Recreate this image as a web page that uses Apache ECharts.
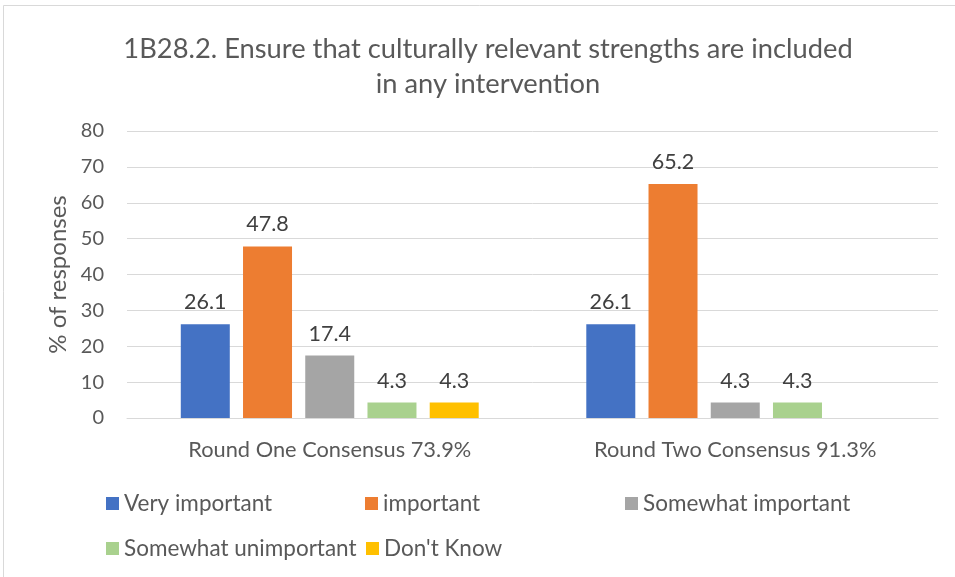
<!DOCTYPE html>
<html>
<head>
<meta charset="utf-8">
<script src="https://cdn.jsdelivr.net/npm/echarts@6/dist/echarts.min.js"></script>
<style>
  html, body { margin: 0; padding: 0; background: #fff; }
  #chart { width: 955px; height: 577px; }
</style>
</head>
<body>
<div id="chart"></div>
<script>
// Response categories (x axis) and the rating series
const categories = ['Round One Consensus 73.9%', 'Round Two Consensus 91.3%'];
const seriesNames = ['Very important', 'important', 'Somewhat important', 'Somewhat unimportant', "Don't Know"];
const veryImportant = [26.1, 26.1];
const important = [47.8, 65.2];
const somewhatImportant = [17.4, 4.3];
const somewhatUnimportant = [4.3, 4.3];
const dontKnow = [4.3, null];
const yTicks = [0, 10, 20, 30, 40, 50, 60, 70, 80];

const colors = ['#4472C4', '#ED7D31', '#A5A5A5', '#A9D18E', '#FFC000'];
const values = [veryImportant, important, somewhatImportant, somewhatUnimportant, dontKnow];
const FONT = 'Lato, "Open Sans", sans-serif';
const TXT = '#595959';

const chart = echarts.init(document.getElementById('chart'), null, { renderer: 'canvas' });

// Legend placement: two rows, three columns
const legendPos = [
  { left: 106, top: 492 },
  { left: 365, top: 492 },
  { left: 625, top: 492 },
  { left: 106, top: 537 },
  { left: 366, top: 537 }
];

const option = {
  backgroundColor: '#ffffff',
  animation: false,
  title: {
    text: '1B28.2. Ensure that culturally relevant strengths are included\nin any intervention',
    left: 483,
    textAlign: 'center',
    top: 27,
    textStyle: { fontFamily: FONT, fontSize: 27.3, fontWeight: 'normal', color: TXT, lineHeight: 35 }
  },
  graphic: [{
    type: 'rect',
    shape: { x: 3.5, y: 5.5, width: 960, height: 580 },
    style: { fill: 'none', stroke: '#d9d9d9', lineWidth: 1 },
    silent: true
  }],
  legend: seriesNames.map((n, i) => ({
    data: [n],
    left: legendPos[i].left,
    top: legendPos[i].top,
    padding: 0,
    itemWidth: 13,
    itemHeight: 13,
    itemGap: 0,
    icon: 'rect',
    textStyle: { fontFamily: FONT, fontSize: 22.5, color: TXT },
    selectedMode: false
  })),
  grid: { left: 127, right: 17, top: 131, bottom: 159 },
  xAxis: {
    type: 'category',
    data: categories,
    axisTick: { show: false },
    axisLine: { lineStyle: { color: '#d9d9d9', width: 1 } },
    axisLabel: { fontFamily: FONT, fontSize: 21.8, color: TXT, margin: 21 }
  },
  yAxis: {
    type: 'value',
    min: yTicks[0],
    max: yTicks[yTicks.length - 1],
    interval: 10,
    name: '% of responses',
    nameLocation: 'middle',
    nameGap: 56,
    nameRotate: 90,
    nameTextStyle: { fontFamily: FONT, fontSize: 24, color: TXT },
    axisLine: { show: false },
    axisTick: { show: false },
    axisLabel: { fontFamily: FONT, fontSize: 20, color: TXT, margin: 23 },
    splitLine: { lineStyle: { color: '#d9d9d9', width: 1 } }
  },
  series: seriesNames.map((n, i) => ({
    name: n,
    type: 'bar',
    data: values[i],
    barWidth: 49,
    barGap: '27%',
    itemStyle: { color: colors[i] },
    label: {
      show: true,
      position: 'top',
      distance: 11,
      fontFamily: FONT,
      fontSize: 21.5,
      color: '#404040',
      formatter: p => p.value == null ? '' : p.value.toFixed(1)
    }
  }))
};

chart.setOption(option);
</script>
</body>
</html>
